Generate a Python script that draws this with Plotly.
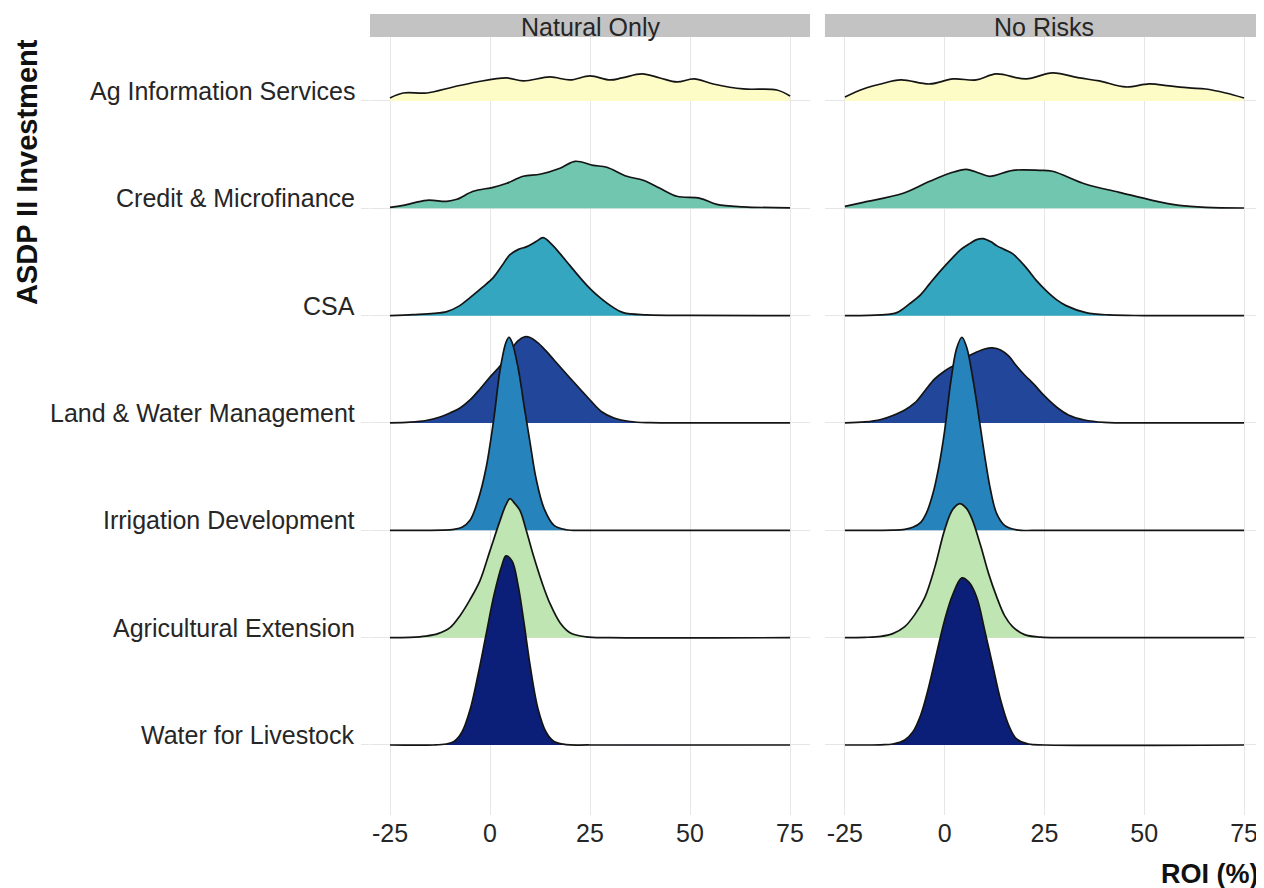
import plotly.graph_objects as go
from plotly.subplots import make_subplots

# ---------------- data ----------------
CATEGORIES = ["Ag Information Services", "Credit & Microfinance", "CSA",
              "Land & Water Management", "Irrigation Development",
              "Agricultural Extension", "Water for Livestock"]
ROW_POS = [7, 6, 5, 4, 3, 2, 1]
PANELS = ["Natural Only", "No Risks"]
X_TICKS = [-25, 0, 25, 50, 75]

# ridge heights (scaled density, 1 row = 107.3 units) at ROI (%) knots
NAT_AGINFO_X = [-25, -21.7, -15.8, -9.2, -3.3, 4.2, 8.3, 15, 20, 25, 30, 33, 38, 42.5, 46.7, 51, 55.8, 63.3, 71.7, 75]
NAT_AGINFO_H = [3, 8, 8, 14, 19, 23, 20, 24, 21, 25, 21, 23, 27, 23, 19, 22, 17, 12, 11, 5]
NAT_CREDIT_X = [-25, -21.7, -15.8, -10.8, -8.3, -4.2, 0.8, 4.2, 8.3, 12.5, 17.5, 21.25, 25.8, 29.2, 34.2, 38.3, 42.5, 46.7, 52.5, 56.7, 63.3, 75]
NAT_CREDIT_H = [1, 3, 8, 7, 9, 17, 21, 25, 32, 34, 40, 47, 43, 41, 32, 28, 20, 12, 10, 4, 1.5, 0.5]
NAT_CSA_X = [-25, -19.2, -14, -10.8, -8, -5, -2, 0.8, 3, 5, 7, 9.2, 11.5, 13.3, 15.5, 17.5, 20, 22.5, 25, 27.5, 30.5, 33.3, 39.2, 50, 75]
NAT_CSA_H = [0, 1, 2.2, 4, 9, 18, 28, 38, 50, 61, 66, 69, 74, 78, 71, 62, 50, 38, 27, 18, 9, 3, 0.8, 0.2, 0]
NAT_LAND_X = [-25, -20, -16, -12.5, -10, -7.5, -5, -2.5, 0, 2.5, 5, 7, 8.5, 10, 12, 14, 16, 18, 20, 22.5, 25, 28, 31, 35, 40, 50, 75]
NAT_LAND_H = [0, 0.8, 2.5, 6, 10, 15, 23, 34, 46, 57, 72, 82, 86, 85.5, 80, 72, 63, 54, 45, 34, 23, 11, 5, 1.5, 0.3, 0, 0]
NAT_IRRIG_X = [-25, -12, -9, -7, -5, -3, -1, 1, 2.5, 4, 4.75, 5.5, 7, 8.5, 10, 11.5, 13.5, 16, 19, 25, 75]
NAT_IRRIG_H = [0, 0.2, 1, 3, 10, 30, 62, 113, 160, 188, 193, 188, 163, 125, 88, 52, 22, 5, 0.6, 0, 0]
NAT_AGEXT_X = [-25, -20, -16, -13, -10, -7.5, -5, -2.5, 0, 2.5, 4, 5, 6, 7.5, 9, 11, 13, 15, 17.5, 20, 24, 30, 75]
NAT_AGEXT_H = [0, 0.3, 1.5, 4, 10, 22, 38, 57, 87, 117, 133, 139, 135, 127, 108, 80, 55, 34, 15, 5, 0.8, 0, 0]
NAT_WATER_X = [-25, -14, -11, -9, -7, -5, -3, -1, 1, 3, 4, 5.5, 7, 8.5, 10, 12, 14, 16, 19, 25, 75]
NAT_WATER_H = [0, 0, 1, 3.5, 13, 35, 70, 110, 150, 180, 189, 184, 160, 122, 80, 36, 13, 3.5, 0.4, 0, 0]

NR_AGINFO_X = [-25, -20.4, -16, -11, -3.75, 2.1, 7.9, 12.9, 20.4, 27, 33.75, 38.75, 45.4, 51.25, 56.25, 61.25, 65.4, 70.4, 75]
NR_AGINFO_H = [4, 12, 17, 21, 17, 22, 21, 27, 22, 28, 23, 20, 14, 17, 15, 13, 12, 8, 3]
NR_CREDIT_X = [-25, -20.4, -10.4, -3.75, 1.25, 5.4, 8.75, 11.25, 17.1, 23.75, 27, 35.4, 43.75, 52, 58.75, 65.4, 75]
NR_CREDIT_H = [2, 6, 15, 27, 35, 39, 35, 32, 38, 38, 37, 24, 16, 8, 3, 1, 0.3]
NR_CSA_X = [-25, -16, -12, -8.75, -6, -3.75, -1, 2, 4, 6.25, 8, 9.6, 11.5, 13, 15, 17, 20.4, 23, 25.4, 28, 30.4, 35.4, 41.25, 50, 75]
NR_CSA_H = [0, 0.7, 3, 12, 21, 32, 45, 58, 66, 72, 76, 77, 74, 70, 66, 62, 48, 35, 25, 16, 10, 3, 0.7, 0.1, 0]
NR_LAND_X = [-25, -20, -16, -13, -10, -7.5, -5, -2.5, 0, 2.5, 5, 7.5, 10, 12, 14, 16, 18, 20, 22.5, 25, 28, 31, 35, 40, 50, 75]
NR_LAND_H = [0, 1, 3.5, 7.5, 13, 20, 32, 44, 52, 58, 65, 70, 74, 75, 73, 67, 57, 48, 38, 27, 16, 8, 3, 0.6, 0, 0]
NR_IRRIG_X = [-25, -13, -10, -8, -6, -4.5, -3, -1.5, 0, 1.5, 3, 4.3, 5.5, 7, 8.5, 10, 11.5, 13, 15, 18, 25, 75]
NR_IRRIG_H = [0, 0.2, 1, 3, 8, 18, 36, 63, 100, 148, 182, 193, 183, 153, 115, 75, 40, 17, 5, 0.5, 0, 0]
NR_AGEXT_X = [-25, -20, -16, -13, -10, -7.5, -5, -2.5, 0, 2, 3.75, 5.5, 7, 9, 11, 13, 15, 17, 20, 24, 30, 75]
NR_AGEXT_H = [0, 0.3, 1.3, 4, 11, 23, 40, 70, 108, 128, 134, 129, 117, 92, 64, 41, 22, 11, 3, 0.5, 0, 0]
NR_WATER_X = [-25, -16, -13, -10, -8, -6, -4, -2, 0, 2, 4.3, 6, 8, 10, 12, 14, 16, 18, 21, 25, 75]
NR_WATER_H = [0, 0.2, 1, 5, 13, 30, 58, 92, 125, 150, 167, 163, 148, 115, 80, 45, 20, 6, 1, 0, 0]

NAT_SERIES = [(NAT_AGINFO_X, NAT_AGINFO_H), (NAT_CREDIT_X, NAT_CREDIT_H), (NAT_CSA_X, NAT_CSA_H),
              (NAT_LAND_X, NAT_LAND_H), (NAT_IRRIG_X, NAT_IRRIG_H), (NAT_AGEXT_X, NAT_AGEXT_H),
              (NAT_WATER_X, NAT_WATER_H)]
NR_SERIES = [(NR_AGINFO_X, NR_AGINFO_H), (NR_CREDIT_X, NR_CREDIT_H), (NR_CSA_X, NR_CSA_H),
             (NR_LAND_X, NR_LAND_H), (NR_IRRIG_X, NR_IRRIG_H), (NR_AGEXT_X, NR_AGEXT_H),
             (NR_WATER_X, NR_WATER_H)]

# ---------------- style ----------------
COLORS = ["#FEFCC6", "#70C6AE", "#35A6C0", "#21469A", "#2683BB", "#BEE5B2", "#0C1F78"]
DENSITY_SCALE = 1 / 107.3
FONT = "Liberation Sans, Arial, Helvetica, sans-serif"
TXT = "#262626"
GRID = "#E6E6E6"
W, H = 1256, 880          # page body has an 8px margin
PLOT_W, PLOT_H = 894, 778

fig = make_subplots(rows=1, cols=2, shared_yaxes=True, horizontal_spacing=0.0167)

for col, series in enumerate([NAT_SERIES, NR_SERIES], start=1):
    for cat, pos, color, (xs, hs) in zip(CATEGORIES, ROW_POS, COLORS, series):
        fig.add_trace(go.Scatter(x=[xs[0], xs[-1]], y=[pos, pos], mode="lines",
                                 line=dict(width=0, color="rgba(0,0,0,0)"),
                                 hoverinfo="skip", showlegend=False), row=1, col=col)
        fig.add_trace(go.Scatter(x=xs, y=[pos + h * DENSITY_SCALE for h in hs], mode="lines",
                                 line=dict(color="#141414", width=1.7, shape="spline", smoothing=1.0),
                                 fill="tonexty", fillcolor=color, name=cat,
                                 showlegend=False), row=1, col=col)

xcommon = dict(range=[-30, 80], tickvals=X_TICKS, ticktext=[str(v) for v in X_TICKS],
               showgrid=True, gridcolor=GRID, gridwidth=1.2, zeroline=False, showline=False,
               ticks="", ticklabelstandoff=1,
               tickfont=dict(size=25, color=TXT, family=FONT))
fig.update_layout(
    xaxis=dict(domain=[0, 0.4922], **xcommon),
    xaxis2=dict(domain=[0.5089, 1], **xcommon),
    yaxis=dict(range=[0.3476, 7.596], tickvals=ROW_POS, showticklabels=False,
               showgrid=True, gridcolor=GRID, gridwidth=1.2, zeroline=False, showline=False,
               ticks="outside", ticklen=8, tickcolor=GRID),
    yaxis2=dict(range=[0.3476, 7.596], tickvals=ROW_POS, showticklabels=False,
                showgrid=True, gridcolor=GRID, gridwidth=1.2, zeroline=False, showline=False),
    width=W, height=H,
    margin=dict(l=W - PLOT_W, r=0, t=29, b=H - 29 - PLOT_H),
    plot_bgcolor="white", paper_bgcolor="white",
    font=dict(family=FONT, color=TXT),
)

# facet strips
strip_top = 1 + 23 / PLOT_H
for dom, label in zip([[0, 0.4922], [0.5089, 1]], PANELS):
    fig.add_shape(type="rect", xref="paper", yref="paper", x0=dom[0], x1=dom[1],
                  y0=1, y1=strip_top, fillcolor="#C3C3C3", line=dict(width=0), layer="below")
    fig.add_annotation(xref="paper", yref="paper", x=(dom[0] + dom[1]) / 2, y=1 + 10 / PLOT_H,
                       text=label, showarrow=False, xanchor="center", yanchor="middle",
                       font=dict(size=25, color=TXT, family=FONT))

# y category labels (sitting on baselines)
for cat, pos in zip(CATEGORIES, ROW_POS):
    fig.add_annotation(xref="paper", yref="y", x=-13 / PLOT_W, y=pos, text=cat, showarrow=False,
                       xanchor="right", yanchor="bottom", yshift=-6,
                       font=dict(size=25, color=TXT, family=FONT))

# axis titles
fig.add_annotation(xref="paper", yref="paper", x=1 - 3 / PLOT_W, y=-59 / PLOT_H, text="<b>ROI (%)</b>",
                   showarrow=False, xanchor="right", yanchor="middle",
                   font=dict(size=27, color="#111111", family=FONT))
fig.add_annotation(xref="paper", yref="paper", x=-343 / PLOT_W, y=643 / PLOT_H,
                   text="<b>ASDP II Investment</b>", textangle=-90, showarrow=False,
                   xanchor="center", yanchor="middle",
                   font=dict(size=29, color="#111111", family=FONT))

fig.write_html("out.html")
